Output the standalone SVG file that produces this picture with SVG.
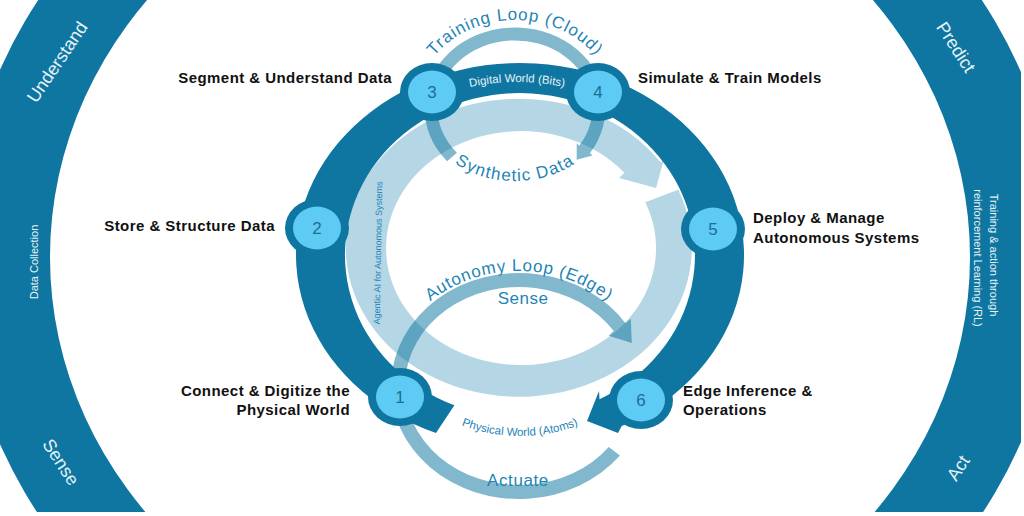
<svg xmlns="http://www.w3.org/2000/svg" width="1024" height="516" viewBox="0 0 1024 516">
<defs>
<style>
.lbl{font-family:"Liberation Sans",Arial,sans-serif;font-weight:bold;font-size:15px;letter-spacing:0.45px;fill:#111}
.ring{font-family:"Liberation Sans",Arial,sans-serif;fill:#e6f3f9}
.loop{font-family:"Liberation Sans",Arial,sans-serif;fill:#1f84b5}
.num{font-family:"Liberation Sans",Arial,sans-serif;font-size:17px;fill:#1d6e94;text-anchor:middle}
.nodeOuter{fill:#0e76a0}
.nodeInner{fill:#5ecbf5}
</style>
<clipPath id="clipAll"><rect x="0" y="0" width="1021" height="512"/></clipPath>
<path id="tpTrain" d="M 415 108 A 100 88 0 0 1 615 108"/>
<path id="tpSynth" d="M 423 108 A 92 73 0 0 0 607 108"/>
<path id="tpDigital" d="M 317.5 255 A 199.5 173 0 0 1 716.5 255"/>
<path id="tpAuto" d="M 388 386 A 131 115 0 0 1 650 386"/>
<path id="tpPhys" d="M 356 272 A 164 164 0 0 0 684 272"/>
</defs>
<rect width="1024" height="516" fill="#ffffff"/>

<g id="outer-ring" clip-path="url(#clipAll)">
<path fill="#0e76a0" fill-rule="evenodd" d="M -40 257 A 550 500 0 1 0 1060 257 A 550 500 0 1 0 -40 257 Z M 50 257 A 460 418 0 1 0 970 257 A 460 418 0 1 0 50 257 Z"/>
<text class="ring" font-size="18" text-anchor="middle" dy="0.35em" transform="translate(57,62) rotate(-56)">Understand</text>
<text class="ring" font-size="11" text-anchor="middle" dy="0.35em" transform="translate(34,262) rotate(-90)">Data Collection</text>
<text class="ring" font-size="18" text-anchor="middle" dy="0.35em" transform="translate(61,462) rotate(57)">Sense</text>
<text class="ring" font-size="18" text-anchor="middle" dy="0.35em" transform="translate(956,47) rotate(57)">Predict</text>
<text class="ring" font-size="11" text-anchor="middle" dy="0.35em" transform="translate(994,255) rotate(90)">Training &amp; action through</text>
<text class="ring" font-size="11" text-anchor="middle" dy="0.35em" transform="translate(978,258) rotate(90)">reinforcement Learning (RL)</text>
<text class="ring" font-size="18" text-anchor="middle" dy="0.35em" transform="translate(958,468) rotate(-57)">Act</text>
</g>

<g id="connectors">
<g id="agentic-loop">
<path fill="#b5d6e5" d="M 678.2 189.8 A 173 149 0 1 1 660.7 162.5 L 664 159 L 656 188 L 619 178 L 624.4 172.8 A 135 117 0 1 0 645.3 202.3 Z"/>
<text class="loop" font-size="9" text-anchor="middle" fill="#2a80ad" transform="translate(381,253) rotate(-89)">Agentic AI for Autonomous Systems</text>
</g>
<g id="training-loop">
<path fill="#0e76a0" opacity="0.52" d="M 447.1 161.3 A 90.5 80.5 0 1 1 590 153 L 592.5 155.5 L 576.7 159.7 L 576.7 143.3 L 579.2 145.7 A 77.5 67.5 0 1 0 456.9 152.7 Z"/>
</g>
<g id="autonomy-loop">
<path fill="#0e76a0" opacity="0.52" d="M 619.9 455.6 A 128 113 0 1 1 625.5 323.3 L 630.8 318.7 L 631.8 343.1 L 608.6 335.7 L 613.8 331.1 A 114 99 0 1 0 608.8 447 Z"/>
</g>
<g id="main-cycle">
<path fill="#0e76a0" d="M 436 433 A 224 192 0 1 1 621.7 426.1 L 618 433 L 587 421 L 599 391 L 599.5 399.3 A 175 162 0 1 0 454.4 405.2 Z"/>
</g>
</g>

<g id="loop-labels">
<text class="loop" font-size="17" letter-spacing="0.9"><textPath href="#tpTrain" startOffset="50%" text-anchor="middle">Training Loop (Cloud)</textPath></text>
<text class="loop" font-size="17" letter-spacing="1.2"><textPath href="#tpSynth" startOffset="50%" text-anchor="middle">Synthetic Data</textPath></text>
<text class="ring" font-size="11.5" fill="#d6eef8"><textPath href="#tpDigital" startOffset="50%" text-anchor="middle">Digital World (Bits)</textPath></text>
<text class="loop" font-size="17" letter-spacing="0.8"><textPath href="#tpAuto" startOffset="50%" text-anchor="middle">Autonomy Loop (Edge)</textPath></text>
<text class="loop" font-size="17" letter-spacing="0.5" x="523" y="304" text-anchor="middle">Sense</text>
<text class="loop" font-size="17" letter-spacing="0.6" x="518" y="486" text-anchor="middle">Actuate</text>
<text class="loop" font-size="11.5"><textPath href="#tpPhys" startOffset="50%" text-anchor="middle">Physical World (Atoms)</textPath></text>
</g>

<g id="node1">
<ellipse class="nodeOuter" cx="400" cy="397" rx="32" ry="29"/>
<ellipse class="nodeInner" cx="400" cy="397" rx="24" ry="21.5"/>
<text class="num" x="400" y="403">1</text>
<text class="lbl" x="350" y="396" text-anchor="end">Connect &amp; Digitize the</text>
<text class="lbl" x="350" y="415" text-anchor="end">Physical World</text>
</g>
<g id="node2">
<ellipse class="nodeOuter" cx="317" cy="228" rx="32" ry="29"/>
<ellipse class="nodeInner" cx="317" cy="228" rx="24" ry="21.5"/>
<text class="num" x="317" y="234">2</text>
<text class="lbl" x="275" y="231" text-anchor="end">Store &amp; Structure Data</text>
</g>
<g id="node3">
<ellipse class="nodeOuter" cx="432" cy="92" rx="32" ry="29"/>
<ellipse class="nodeInner" cx="432" cy="92" rx="24" ry="21.5"/>
<text class="num" x="432" y="98">3</text>
<text class="lbl" x="392" y="83" text-anchor="end">Segment &amp; Understand Data</text>
</g>
<g id="node4">
<ellipse class="nodeOuter" cx="598" cy="92" rx="32" ry="29"/>
<ellipse class="nodeInner" cx="598" cy="92" rx="24" ry="21.5"/>
<text class="num" x="598" y="98">4</text>
<text class="lbl" x="638" y="83">Simulate &amp; Train Models</text>
</g>
<g id="node5">
<ellipse class="nodeOuter" cx="713" cy="229" rx="32" ry="29"/>
<ellipse class="nodeInner" cx="713" cy="229" rx="24" ry="21.5"/>
<text class="num" x="713" y="235">5</text>
<text class="lbl" x="753" y="223">Deploy &amp; Manage</text>
<text class="lbl" x="753" y="243">Autonomous Systems</text>
</g>
<g id="node6">
<ellipse class="nodeOuter" cx="641" cy="400" rx="32" ry="29"/>
<ellipse class="nodeInner" cx="641" cy="400" rx="24" ry="21.5"/>
<text class="num" x="641" y="406">6</text>
<text class="lbl" x="683" y="396">Edge Inference &amp;</text>
<text class="lbl" x="683" y="415">Operations</text>
</g>
</svg>
